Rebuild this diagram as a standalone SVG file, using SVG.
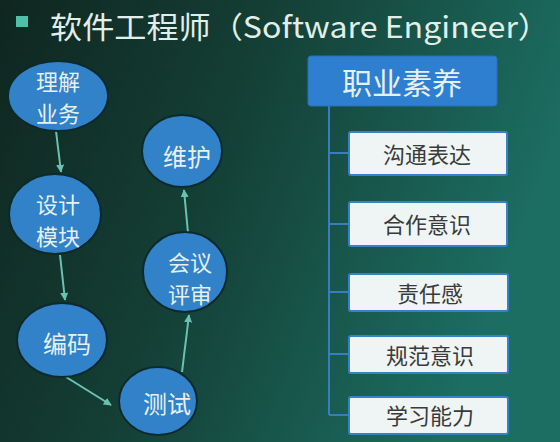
<svg xmlns="http://www.w3.org/2000/svg" width="560" height="442" viewBox="0 0 560 442">
<defs>
<linearGradient id="bg" x1="0" y1="0" x2="1" y2="0.3">
<stop offset="0" stop-color="#0f2620"/>
<stop offset="0.45" stop-color="#143f35"/>
<stop offset="1" stop-color="#1c6d62"/>
</linearGradient>
<marker id="ah" viewBox="0 0 10 10" refX="9" refY="5" markerWidth="4" markerHeight="4" orient="auto" markerUnits="strokeWidth">
<path d="M0,0 L10,5 L0,10 z" fill="#6ac2b2"/>
</marker>
<style>
.ell{fill:#3182c9;stroke:#0c2a2c;stroke-width:2}
.et{font-family:"Noto Sans CJK SC",sans-serif;font-size:24px;fill:#e6f0ee;text-anchor:middle;dominant-baseline:central}
.et2{font-family:"Noto Sans CJK SC",sans-serif;font-size:22px;fill:#e6f0ee;text-anchor:middle;dominant-baseline:central}
.arr{stroke:#6ac2b2;stroke-width:2;fill:none;marker-end:url(#ah)}
.box{fill:#eef5f4;stroke:#3a80c8;stroke-width:2}
.bt{font-family:"Noto Sans CJK SC",sans-serif;font-size:22px;fill:#3a3a3a;text-anchor:middle;dominant-baseline:central}
.tree{stroke:#3a7cc2;stroke-width:2;fill:none}
</style>
</defs>
<rect width="560" height="442" fill="url(#bg)"/>
<g id="title">
<rect x="16" y="16" width="12" height="11" fill="#4fbfa8"/>
<text x="50" y="25" font-family="Noto Sans CJK SC, sans-serif" font-size="30" fill="#e2eee9" dominant-baseline="central" textLength="500" lengthAdjust="spacingAndGlyphs">软件工程师（Software Engineer）</text>
</g>
<g id="connectors">
<line class="arr" x1="56" y1="131" x2="61" y2="172"/>
<line class="arr" x1="60" y1="255" x2="65" y2="300"/>
<line class="arr" x1="66" y1="377" x2="111" y2="405"/>
<line class="arr" x1="182" y1="372" x2="189" y2="315"/>
<line class="arr" x1="188" y1="233" x2="184" y2="190"/>
<path class="tree" d="M329,105 V415 M329,153 H349 M329,224 H349 M329,292 H349 M329,354 H349 M329,415 H349"/>
</g>
<g id="n1"><ellipse class="ell" cx="58" cy="96" rx="50" ry="35"/><text class="et2" x="58" y="80">理解<tspan x="58" dy="32">业务</tspan></text></g>
<g id="n2"><ellipse class="ell" cx="55" cy="214" rx="46" ry="40"/><text class="et2" x="58" y="203">设计<tspan x="58" dy="32">模块</tspan></text></g>
<g id="n3"><ellipse class="ell" cx="62" cy="340" rx="45" ry="37"/><text class="et" x="67" y="342">编码</text></g>
<g id="n4"><ellipse class="ell" cx="158" cy="401" rx="39" ry="34"/><text class="et" x="167" y="402">测试</text></g>
<g id="n5"><ellipse class="ell" cx="185" cy="272" rx="42" ry="40"/><text class="et2" x="190" y="261">会议<tspan x="190" dy="32">评审</tspan></text></g>
<g id="n6"><ellipse class="ell" cx="182" cy="151" rx="40" ry="36"/><text class="et" x="187" y="155">维护</text></g>
<g id="root"><rect x="308" y="56" width="189" height="50" rx="3" fill="#2f7fd0" stroke="#2a6fb8" stroke-width="1"/><text x="402" y="81" font-family="Noto Sans CJK SC, sans-serif" font-size="30" fill="#e6f0ee" text-anchor="middle" dominant-baseline="central">职业素养</text></g>
<g id="c1"><rect class="box" x="349" y="132" width="158" height="43" rx="2"/><text class="bt" x="427" y="153">沟通表达</text></g>
<g id="c2"><rect class="box" x="349" y="202" width="158" height="44" rx="2"/><text class="bt" x="427" y="223">合作意识</text></g>
<g id="c3"><rect class="box" x="349" y="274" width="159" height="37" rx="2"/><text class="bt" x="430" y="292">责任感</text></g>
<g id="c4"><rect class="box" x="349" y="336" width="159" height="37" rx="2"/><text class="bt" x="430" y="354">规范意识</text></g>
<g id="c5"><rect class="box" x="349" y="397" width="159" height="37" rx="2"/><text class="bt" x="430" y="414">学习能力</text></g>
</svg>
